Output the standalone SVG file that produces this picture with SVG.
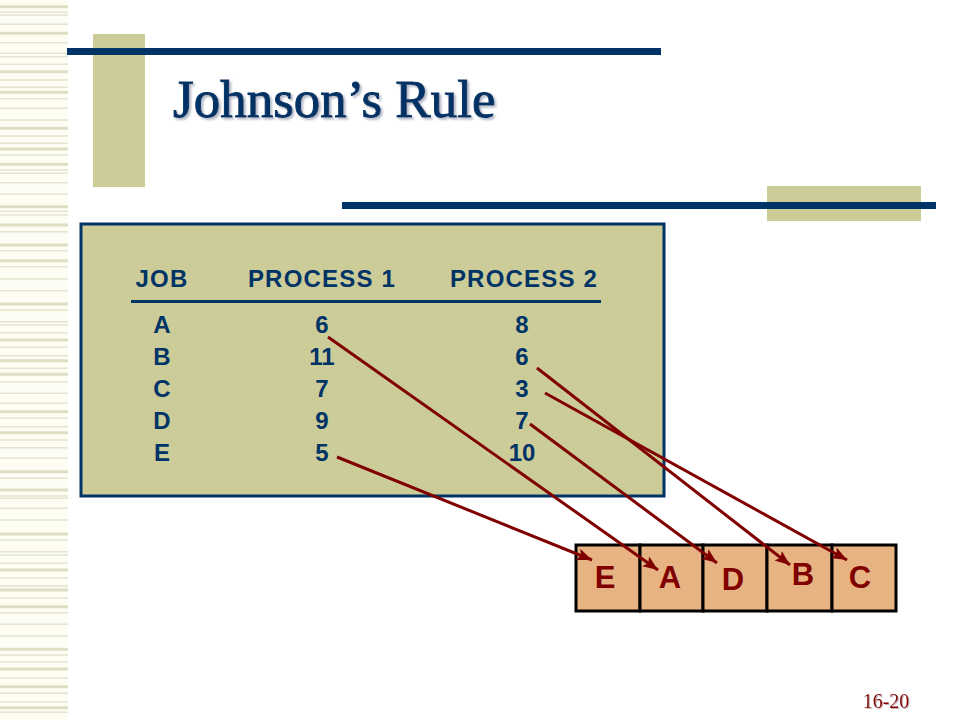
<svg xmlns="http://www.w3.org/2000/svg" width="960" height="720" viewBox="0 0 960 720">
<style>
.thin{stroke:#e4e4d0;stroke-width:1.4;fill:none}
.thick{stroke:#dedec4;stroke-width:3;fill:none}
.khaki{fill:#cccc99}
.navy{fill:#003366}
.hdr{font-family:"Liberation Sans",Arial,sans-serif;font-weight:bold;font-size:24px;letter-spacing:1.2px;fill:#003366;text-anchor:middle}
.cell{font-family:"Liberation Sans",Arial,sans-serif;font-weight:bold;font-size:24px;fill:#003366;text-anchor:middle}
.seq{fill:#e8b383;stroke:#000;stroke-width:3}
.lab{font-family:"Liberation Sans",Arial,sans-serif;font-weight:bold;font-size:31px;fill:#800000;text-anchor:middle}
.arr{stroke:#800000;stroke-width:3;fill:none;marker-end:url(#ah)}
</style>
<defs>
<marker id="ah" markerUnits="userSpaceOnUse" markerWidth="18" markerHeight="14" refX="15" refY="6" orient="auto">
<path d="M0,0 L15,6 L0,12 L3,6 Z" fill="#800000"/>
</marker>
<filter id="sh" x="-5%" y="-20%" width="115%" height="150%">
<feDropShadow dx="2" dy="2" stdDeviation="0.8" flood-color="#a8b0c0" flood-opacity="0.9"/>
</filter>
<filter id="sh2" x="-10%" y="-30%" width="130%" height="170%">
<feDropShadow dx="1" dy="1" stdDeviation="0.6" flood-color="#c0a8a8" flood-opacity="0.9"/>
</filter>
</defs>
<rect width="960" height="720" fill="#ffffff"/>
<g id="strip">
<rect x="0" y="0" width="68" height="720" fill="#fdfdf4"/>
<path class="thick" d="M0 6.7h68M0 33.3h68M0 71.7h68M0 92.3h68M0 128.3h68M0 149h68M0 164.3h68M0 206.7h68M0 225h68M0 245h68M0 260.7h68M0 304h68M0 340h68M0 360.7h68M0 374.3h68M0 411.7h68M0 432.7h68M0 471.7h68M0 490h68M0 534h68M0 570h68M0 590h68M0 606.7h68M0 649.3h68M0 669h68M0 686.7h68M0 707.7h68"/>
<path class="thin" d="M0 12.3h68M0 15h68M0 24.3h68M0 42.7h68M0 53.3h68M0 56.7h68M0 64.3h68M0 80h68M0 87.3h68M0 98.7h68M0 108.3h68M0 120h68M0 136h68M0 143.3h68M0 155h68M0 170h68M0 173.3h68M0 182.7h68M0 194.3h68M0 211.3h68M0 215h68M0 231.7h68M0 250.7h68M0 266.7h68M0 279h68M0 290.7h68M0 310h68M0 321.7h68M0 325h68M0 332.7h68M0 347.3h68M0 355.7h68M0 368.3h68M0 381.7h68M0 393.3h68M0 403.3h68M0 418.3h68M0 426.7h68M0 440h68M0 447.7h68M0 458.3h68M0 478.3h68M0 496h68M0 498.3h68M0 508.3h68M0 520h68M0 540h68M0 551.7h68M0 555h68M0 563.3h68M0 577.7h68M0 586h68M0 598.3h68M0 612.7h68M0 624.3h68M0 636h68M0 655h68M0 661.7h68M0 678.3h68M0 693.3h68M0 701.7h68M0 712.3h68"/>
</g>
<g id="decor">
<rect class="khaki" x="93" y="34" width="52" height="153"/>
<rect class="navy" x="67" y="48" width="594" height="7"/>
<rect class="khaki" x="767" y="186" width="154" height="35"/>
<rect class="navy" x="342" y="202" width="594" height="7"/>
</g>
<g id="title">
<text x="173" y="117" font-family="'Liberation Serif','Times New Roman',serif" font-size="53" fill="#003366" stroke="#003366" stroke-width="1" filter="url(#sh)">Johnson’s Rule</text>
</g>
<g id="table">
<rect x="81" y="224" width="583" height="272" fill="#cccc99" stroke="#003366" stroke-width="3"/>
<text class="hdr" x="162" y="287">JOB</text>
<text class="hdr" x="322" y="287">PROCESS 1</text>
<text class="hdr" x="524" y="287">PROCESS 2</text>
<line x1="131" y1="301.5" x2="601" y2="301.5" stroke="#003366" stroke-width="3"/>
<text class="cell" x="162" y="333">A</text><text class="cell" x="322" y="333">6</text><text class="cell" x="522" y="333">8</text>
<text class="cell" x="162" y="365">B</text><text class="cell" x="322" y="365">11</text><text class="cell" x="522" y="365">6</text>
<text class="cell" x="162" y="397">C</text><text class="cell" x="322" y="397">7</text><text class="cell" x="522" y="397">3</text>
<text class="cell" x="162" y="429">D</text><text class="cell" x="322" y="429">9</text><text class="cell" x="522" y="429">7</text>
<text class="cell" x="162" y="461">E</text><text class="cell" x="322" y="461">5</text><text class="cell" x="522" y="461">10</text>
</g>
<g id="sequence">
<rect class="seq" x="576" y="545" width="64" height="66"/>
<rect class="seq" x="640" y="545" width="63" height="66"/>
<rect class="seq" x="703" y="545" width="64" height="66"/>
<rect class="seq" x="767" y="545" width="65" height="66"/>
<rect class="seq" x="832" y="545" width="64" height="66"/>
<text class="lab" x="605" y="588">E</text>
<text class="lab" x="670" y="588">A</text>
<text class="lab" x="733" y="590">D</text>
<text class="lab" x="803" y="585">B</text>
<text class="lab" x="860" y="588">C</text>
</g>
<g id="connectors">
<line class="arr" x1="328" y1="337" x2="658" y2="570"/>
<line class="arr" x1="337" y1="457" x2="592" y2="560"/>
<line class="arr" x1="530" y1="424" x2="717" y2="563"/>
<line class="arr" x1="537" y1="368" x2="790" y2="565"/>
<line class="arr" x1="545" y1="393" x2="847" y2="560"/>
</g>
<g id="pagenum">
<text x="886" y="708" font-family="'Liberation Serif','Times New Roman',serif" font-size="20" fill="#800000" text-anchor="middle" filter="url(#sh2)">16-20</text>
</g>
</svg>
